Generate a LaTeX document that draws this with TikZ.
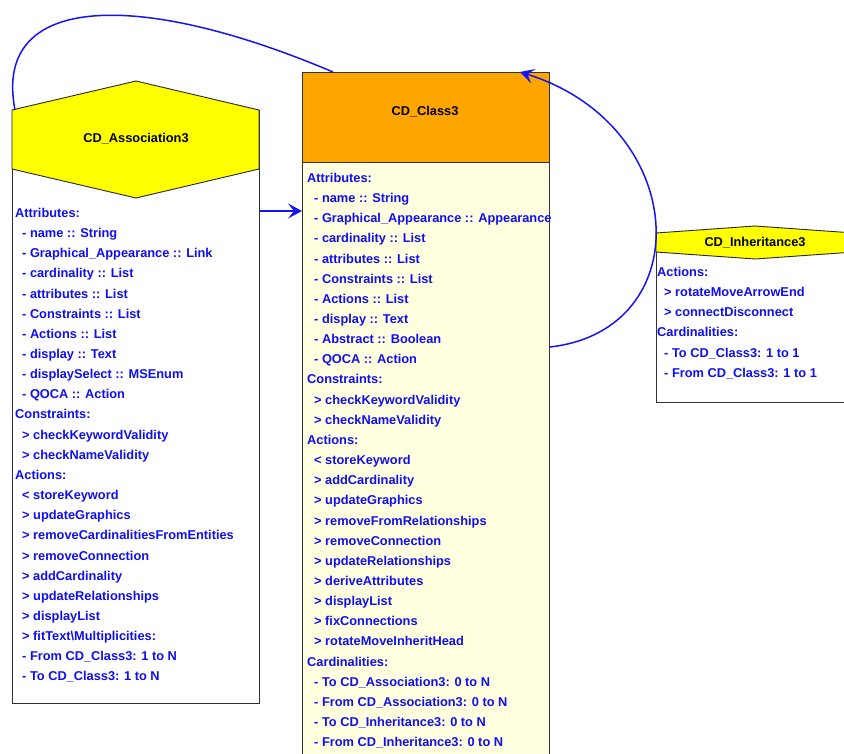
\documentclass[tikz,border=0pt]{standalone}
\usepackage{fontspec}
\setmainfont{Liberation Sans}
\usetikzlibrary{arrows.meta}
\definecolor{hexyellow}{RGB}{255,255,0}
\definecolor{classorange}{RGB}{255,165,0}
\definecolor{bodyyellow}{RGB}{255,255,224}
\definecolor{attrblue}{RGB}{15,15,240}
\definecolor{linkblue}{RGB}{20,20,245}
\newcommand{\lpad}{\hspace*{7pt}}

\begin{document}
\begin{tikzpicture}[x=1pt,y=-1pt,font=\fontsize{12.8}{20.15}\selectfont\bfseries,
    hdr/.style={draw=black!85,line width=0.9pt},
    body/.style={draw=black!80,line width=0.9pt,anchor=north west,inner sep=0pt},
    ttl/.style={inner sep=0pt,text=black},
    txt/.style={anchor=north west,inner sep=0pt,align=left,text=attrblue},
    link/.style={draw=linkblue,line width=1.5pt},
    tip/.style={-{Stealth[length=14pt,width=15pt,inset=6pt]}}]
  \useasboundingbox (0,0) rectangle (844,753);
  \clip (0,0) rectangle (844,753);

  % association (hexagon head over a white body)
  \node[body,fill=white,minimum width=247pt,minimum height=593pt] (assocbody) at (12,110) {};
  \draw[hdr,fill=hexyellow] (12,110) -- (136,81) -- (259,110) -- (259,169) -- (136,198) -- (12,169) -- cycle;
  \node[ttl] (assoc) at (136,139) {CD\_Association3};
  \node[txt] (assoctxt) at (15,208) {Attributes:\\
    \lpad- name :: String\\
    \lpad- Graphical\_Appearance :: Link\\
    \lpad- cardinality :: List\\
    \lpad- attributes :: List\\
    \lpad- Constraints :: List\\
    \lpad- Actions :: List\\
    \lpad- display :: Text\\
    \lpad- displaySelect :: MSEnum\\
    \lpad- QOCA :: Action\\
    Constraints:\\
    \lpad> checkKeywordValidity\\
    \lpad> checkNameValidity\\
    Actions:\\
    \lpad< storeKeyword\\
    \lpad> updateGraphics\\
    \lpad> removeCardinalitiesFromEntities\\
    \lpad> removeConnection\\
    \lpad> addCardinality\\
    \lpad> updateRelationships\\
    \lpad> displayList\\
    \lpad> fitText\textbackslash Multiplicities:\\
    \lpad- From CD\_Class3: 1 to N\\
    \lpad- To CD\_Class3: 1 to N};

  % class
  \node[body,fill=bodyyellow,minimum width=247pt,minimum height=640pt] (clsbody) at (302,162) {};
  \node[body,fill=classorange,minimum width=247pt,minimum height=90pt] (clshead) at (302,72) {};
  \node[ttl] (cls) at (425,112) {CD\_Class3};
  \node[txt] (clstxt) at (307,173) {Attributes:\\
    \lpad- name :: String\\
    \lpad- Graphical\_Appearance :: Appearance\\
    \lpad- cardinality :: List\\
    \lpad- attributes :: List\\
    \lpad- Constraints :: List\\
    \lpad- Actions :: List\\
    \lpad- display :: Text\\
    \lpad- Abstract :: Boolean\\
    \lpad- QOCA :: Action\\
    Constraints:\\
    \lpad> checkKeywordValidity\\
    \lpad> checkNameValidity\\
    Actions:\\
    \lpad< storeKeyword\\
    \lpad> addCardinality\\
    \lpad> updateGraphics\\
    \lpad> removeFromRelationships\\
    \lpad> removeConnection\\
    \lpad> updateRelationships\\
    \lpad> deriveAttributes\\
    \lpad> displayList\\
    \lpad> fixConnections\\
    \lpad> rotateMoveInheritHead\\
    Cardinalities:\\
    \lpad- To CD\_Association3: 0 to N\\
    \lpad- From CD\_Association3: 0 to N\\
    \lpad- To CD\_Inheritance3: 0 to N\\
    \lpad- From CD\_Inheritance3: 0 to N};

  % inheritance
  \node[body,fill=white,minimum width=198pt,minimum height=169pt] (inhbody) at (656,233) {};
  \draw[hdr,fill=hexyellow] (656,233) -- (755,226) -- (854,233) -- (854,252) -- (755,259) -- (656,252) -- cycle;
  \node[ttl] (inh) at (755,243) {CD\_Inheritance3};
  \node[txt] (inhtxt) at (657,267) {Actions:\\
    \lpad> rotateMoveArrowEnd\\
    \lpad> connectDisconnect\\
    Cardinalities:\\
    \lpad- To CD\_Class3: 1 to 1\\
    \lpad- From CD\_Class3: 1 to 1};

  % connectors
  \draw[link] ([xshift=3pt]assocbody.north west) .. controls (-8,-8) and (140,-10) .. ([xshift=31pt]clshead.north west);
  \draw[link,tip] ([yshift=-101pt]assocbody.north east) -- ([yshift=-49pt]clsbody.north west);
  \draw[link,tip] ([yshift=-185pt]clsbody.north east) .. controls (700,330) and (690,125) .. ([xshift=-30pt]clshead.north east);
\end{tikzpicture}
\end{document}
